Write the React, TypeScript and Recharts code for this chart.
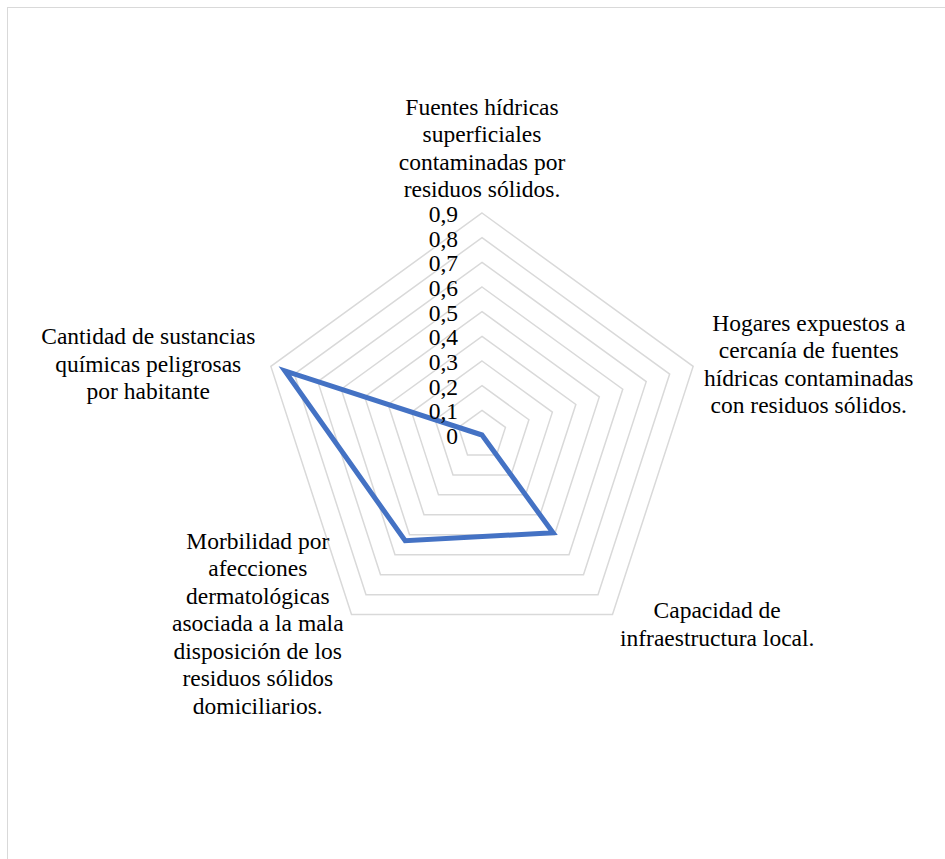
import React from 'react';
import {
  RadarChart,
  Radar,
  PolarGrid,
  PolarAngleAxis,
  PolarRadiusAxis
} from 'recharts';

// categories in clockwise order starting at the top
const CATEGORIES = [
  'Fuentes hídricas superficiales contaminadas por residuos sólidos.',
  'Hogares expuestos a cercanía de fuentes hídricas contaminadas con residuos sólidos.',
  'Capacidad de infraestructura local.',
  'Morbilidad por afecciones dermatológicas asociada a la mala disposición de los residuos sólidos domiciliarios.',
  'Cantidad de sustancias químicas peligrosas por habitante'
];

// wrapped text for each category label
const CATEGORY_LINES = [
  ['Fuentes hídricas', 'superficiales', 'contaminadas por', 'residuos sólidos.'],
  ['Hogares expuestos a', 'cercanía de fuentes', 'hídricas contaminadas', 'con residuos sólidos.'],
  ['Capacidad de', 'infraestructura local.'],
  ['Morbilidad por', 'afecciones', 'dermatológicas', 'asociada a la mala', 'disposición de los', 'residuos sólidos', 'domiciliarios.'],
  ['Cantidad de sustancias', 'químicas peligrosas', 'por habitante']
];

const VALUES = [0, 0, 0.49, 0.53, 0.84];

// recharts rounds the radius domain up to 1, so keep it there explicitly;
// the grid rings only go to the last tick (0.9)
const RADIUS_DOMAIN = [0, 1];
const RADIUS_TICKS = [0, 0.1, 0.2, 0.3, 0.4, 0.5, 0.6, 0.7, 0.8, 0.9];

const data = CATEGORIES.map((name, i) => ({ name, value: VALUES[i] }));

const FONT = '"Liberation Serif", Tinos, "Times New Roman", "DejaVu Serif", serif';
const FONT_SIZE = 23.5;
const LINE_HEIGHT = 27.5;

// 0.9 ring should sit ~222px from the centre
const OUTER_RADIUS = 222 / 0.9;

// label block centre offsets relative to the tick anchor point
const LABEL_OFFSETS = [
  { dx: 0, dy: -57 },
  { dx: 108, dy: 0 },
  { dx: 100, dy: 3 },
  { dx: -89, dy: 2 },
  { dx: -115, dy: 0 }
];

const AngleTick = (props: any) => {
  const { index, payload } = props;
  const lines = CATEGORY_LINES[index] || [payload.value];
  const off = LABEL_OFFSETS[index] || { dx: 0, dy: 0 };
  // anchor at the 0.9 ring vertex + 8px, independent of the outer radius
  const ang = (-payload.coordinate * Math.PI) / 180;
  const r = 222 + 8;
  const cx = 482 + r * Math.cos(ang) + off.dx;
  const cy = 435 + r * Math.sin(ang) + off.dy;
  return (
    <text
      textAnchor="middle"
      style={{ fontFamily: FONT, fontSize: FONT_SIZE }}
      fill="#000"
    >
      {lines.map((line, i) => (
        <tspan
          key={i}
          x={cx}
          y={cy + (i - (lines.length - 1) / 2) * LINE_HEIGHT}
          dominantBaseline="central"
        >
          {line}
        </tspan>
      ))}
    </text>
  );
};

const RadiusTick = (props: any) => {
  const { x, y, payload } = props;
  const v = Number(payload.value);
  const label = v === 0 ? '0' : v.toFixed(1).replace('.', ',');
  return (
    <text
      x={x - 24}
      y={y + 1}
      textAnchor="end"
      dominantBaseline="central"
      style={{ fontFamily: FONT, fontSize: FONT_SIZE }}
      fill="#000"
    >
      {label}
    </text>
  );
};

const App: React.FC = () => {
  return (
    <div
      style={{
        position: 'absolute',
        left: 0,
        top: 0,
        width: 945,
        height: 859,
        overflow: 'hidden',
        background: '#fff'
      }}
    >
      <div
        style={{
          position: 'absolute',
          left: 7,
          top: 7,
          width: 1000,
          height: 1000,
          border: '1.5px solid #d9d9d9'
        }}
      />
      <div style={{ position: 'absolute', left: 0, top: 0 }}>
        <RadarChart
          width={945}
          height={859}
          data={data}
          cx={482}
          cy={435}
          outerRadius={OUTER_RADIUS}
          startAngle={90}
          endAngle={-270}
        >
          <PolarGrid
            gridType="polygon"
            radialLines={false}
            stroke="#d9d9d9"
            strokeWidth={1.5}
          />
          <PolarAngleAxis
            dataKey="name"
            tick={<AngleTick />}
            tickLine={false}
            axisLine={false}
          />
          <PolarRadiusAxis
            angle={90}
            type="number"
            domain={RADIUS_DOMAIN}
            ticks={RADIUS_TICKS}
            allowDataOverflow={true}
            axisLine={false}
            tickLine={false}
            tick={<RadiusTick />}
          />
          <Radar
            dataKey="value"
            stroke="#4472c4"
            strokeWidth={5}
            fill="none"
            fillOpacity={0}
            dot={false}
            isAnimationActive={false}
          />
        </RadarChart>
      </div>
    </div>
  );
};

export default App;
